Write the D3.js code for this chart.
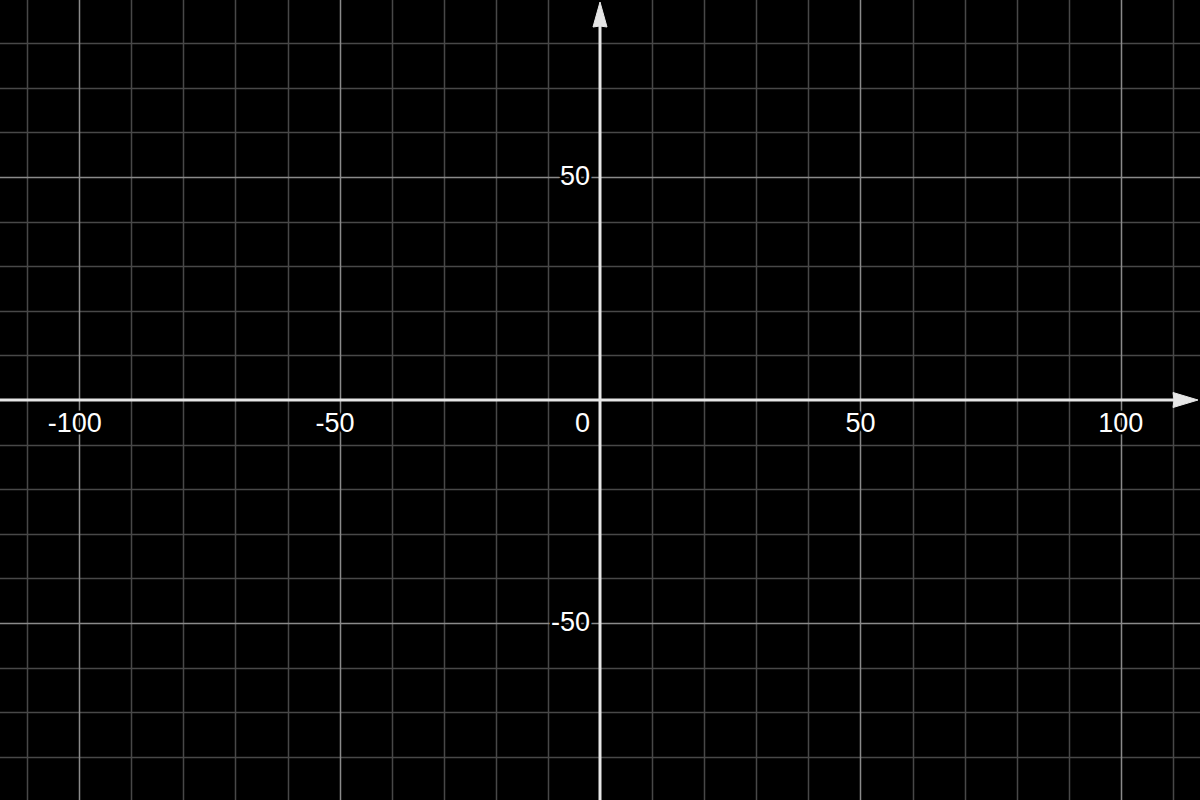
<!DOCTYPE html>
<html>
<head>
<meta charset="utf-8">
<script src="https://cdn.jsdelivr.net/npm/d3@7"></script>
<style>
  html, body { margin: 0; padding: 0; background: #000; }
  svg { display: block; }
  text { font-family: "Liberation Sans", Arial, sans-serif; }
</style>
</head>
<body>
<svg id="chart" width="1200" height="800"></svg>
<script>
// Data: grid and tick values
const xMinorTicks = [-110, -100, -90, -80, -70, -60, -50, -40, -30, -20, -10, 0, 10, 20, 30, 40, 50, 60, 70, 80, 90, 100, 110];
const yMinorTicks = [-80, -70, -60, -50, -40, -30, -20, -10, 0, 10, 20, 30, 40, 50, 60, 70, 80];
const xMajorTicks = [-100, -50, 50, 100];
const yMajorTicks = [-50, 50];
const xTickLabels = ["-100", "-50", "50", "100"];
const yTickLabels = ["-50", "50"];
const originLabel = "0";
const xDomain = [-115.2, 115.2];
const yDomain = [-89.7, 89.7];

const W = 1200, H = 800;
const svg = d3.select("#chart");
svg.append("rect").attr("width", W).attr("height", H).attr("fill", "#000");

const x = d3.scaleLinear().domain(xDomain).range([0, W]);
const y = d3.scaleLinear().domain(yDomain).range([H, 0]);

const grid = svg.append("g");
// minor grid
grid.selectAll("line.vminor").data(xMinorTicks.filter(d => d !== 0 && !xMajorTicks.includes(d)))
  .join("line").attr("class", "vminor")
  .attr("x1", d => Math.round(x(d)) + 0.5).attr("x2", d => Math.round(x(d)) + 0.5)
  .attr("y1", 0).attr("y2", H)
  .attr("stroke", "#484848").attr("stroke-width", 1.5);
grid.selectAll("line.hminor").data(yMinorTicks.filter(d => d !== 0 && !yMajorTicks.includes(d)))
  .join("line").attr("class", "hminor")
  .attr("y1", d => Math.round(y(d)) + 0.5).attr("y2", d => Math.round(y(d)) + 0.5)
  .attr("x1", 0).attr("x2", W)
  .attr("stroke", "#484848").attr("stroke-width", 1.5);
// major grid
grid.selectAll("line.vmajor").data(xMajorTicks)
  .join("line").attr("class", "vmajor")
  .attr("x1", d => Math.round(x(d)) + 0.5).attr("x2", d => Math.round(x(d)) + 0.5)
  .attr("y1", 0).attr("y2", H)
  .attr("stroke", "#8a8a8a").attr("stroke-width", 1.5);
grid.selectAll("line.hmajor").data(yMajorTicks)
  .join("line").attr("class", "hmajor")
  .attr("y1", d => Math.round(y(d)) + 0.5).attr("y2", d => Math.round(y(d)) + 0.5)
  .attr("x1", 0).attr("x2", W)
  .attr("stroke", "#8a8a8a").attr("stroke-width", 1.5);

// axes
const axisColor = "#e6e6e6";
const x0 = x(0), y0 = y(0);
svg.append("line").attr("x1", 0).attr("x2", W - 20).attr("y1", y0).attr("y2", y0)
  .attr("stroke", axisColor).attr("stroke-width", 3);
svg.append("line").attr("x1", x0).attr("x2", x0).attr("y1", 20).attr("y2", H)
  .attr("stroke", axisColor).attr("stroke-width", 3);
// arrowheads
svg.append("path")
  .attr("d", `M${W - 2},${y0} L${W - 27},${y0 - 7.5} L${W - 26},${y0} L${W - 27},${y0 + 7.5} Z`)
  .attr("fill", axisColor).attr("stroke", axisColor).attr("stroke-width", 1).attr("stroke-linejoin", "round");
svg.append("path")
  .attr("d", `M${x0},2 L${x0 - 7},27 L${x0},26 L${x0 + 7},27 Z`)
  .attr("fill", axisColor).attr("stroke", axisColor).attr("stroke-width", 1).attr("stroke-linejoin", "round");

// labels
const labels = svg.append("g")
  .attr("font-size", 27)
  .attr("fill", "#fff")
  .attr("stroke", "#000").attr("stroke-width", 5)
  .attr("paint-order", "stroke").attr("stroke-linejoin", "round");

// x labels: number part centered on the gridline, minus sign hanging left
xMajorTicks.forEach((v, i) => {
  const t = labels.append("text")
    .attr("x", x(v))
    .attr("y", y0 + 32)
    .attr("text-anchor", "middle")
    .text(xTickLabels[i].replace("-", ""));
  if (xTickLabels[i].startsWith("-")) {
    const bb = t.node().getBBox();
    labels.append("text").attr("x", bb.x).attr("y", y0 + 32)
      .attr("text-anchor", "end").text("-");
  }
});
yMajorTicks.forEach((v, i) => {
  labels.append("text")
    .attr("x", x0 - 10)
    .attr("y", y(v) - 1)
    .attr("dy", "0.35em")
    .attr("text-anchor", "end")
    .text(yTickLabels[i]);
});
labels.append("text").attr("x", x0 - 10).attr("y", y0 + 32)
  .attr("text-anchor", "end").text(originLabel);
</script>
</body>
</html>
